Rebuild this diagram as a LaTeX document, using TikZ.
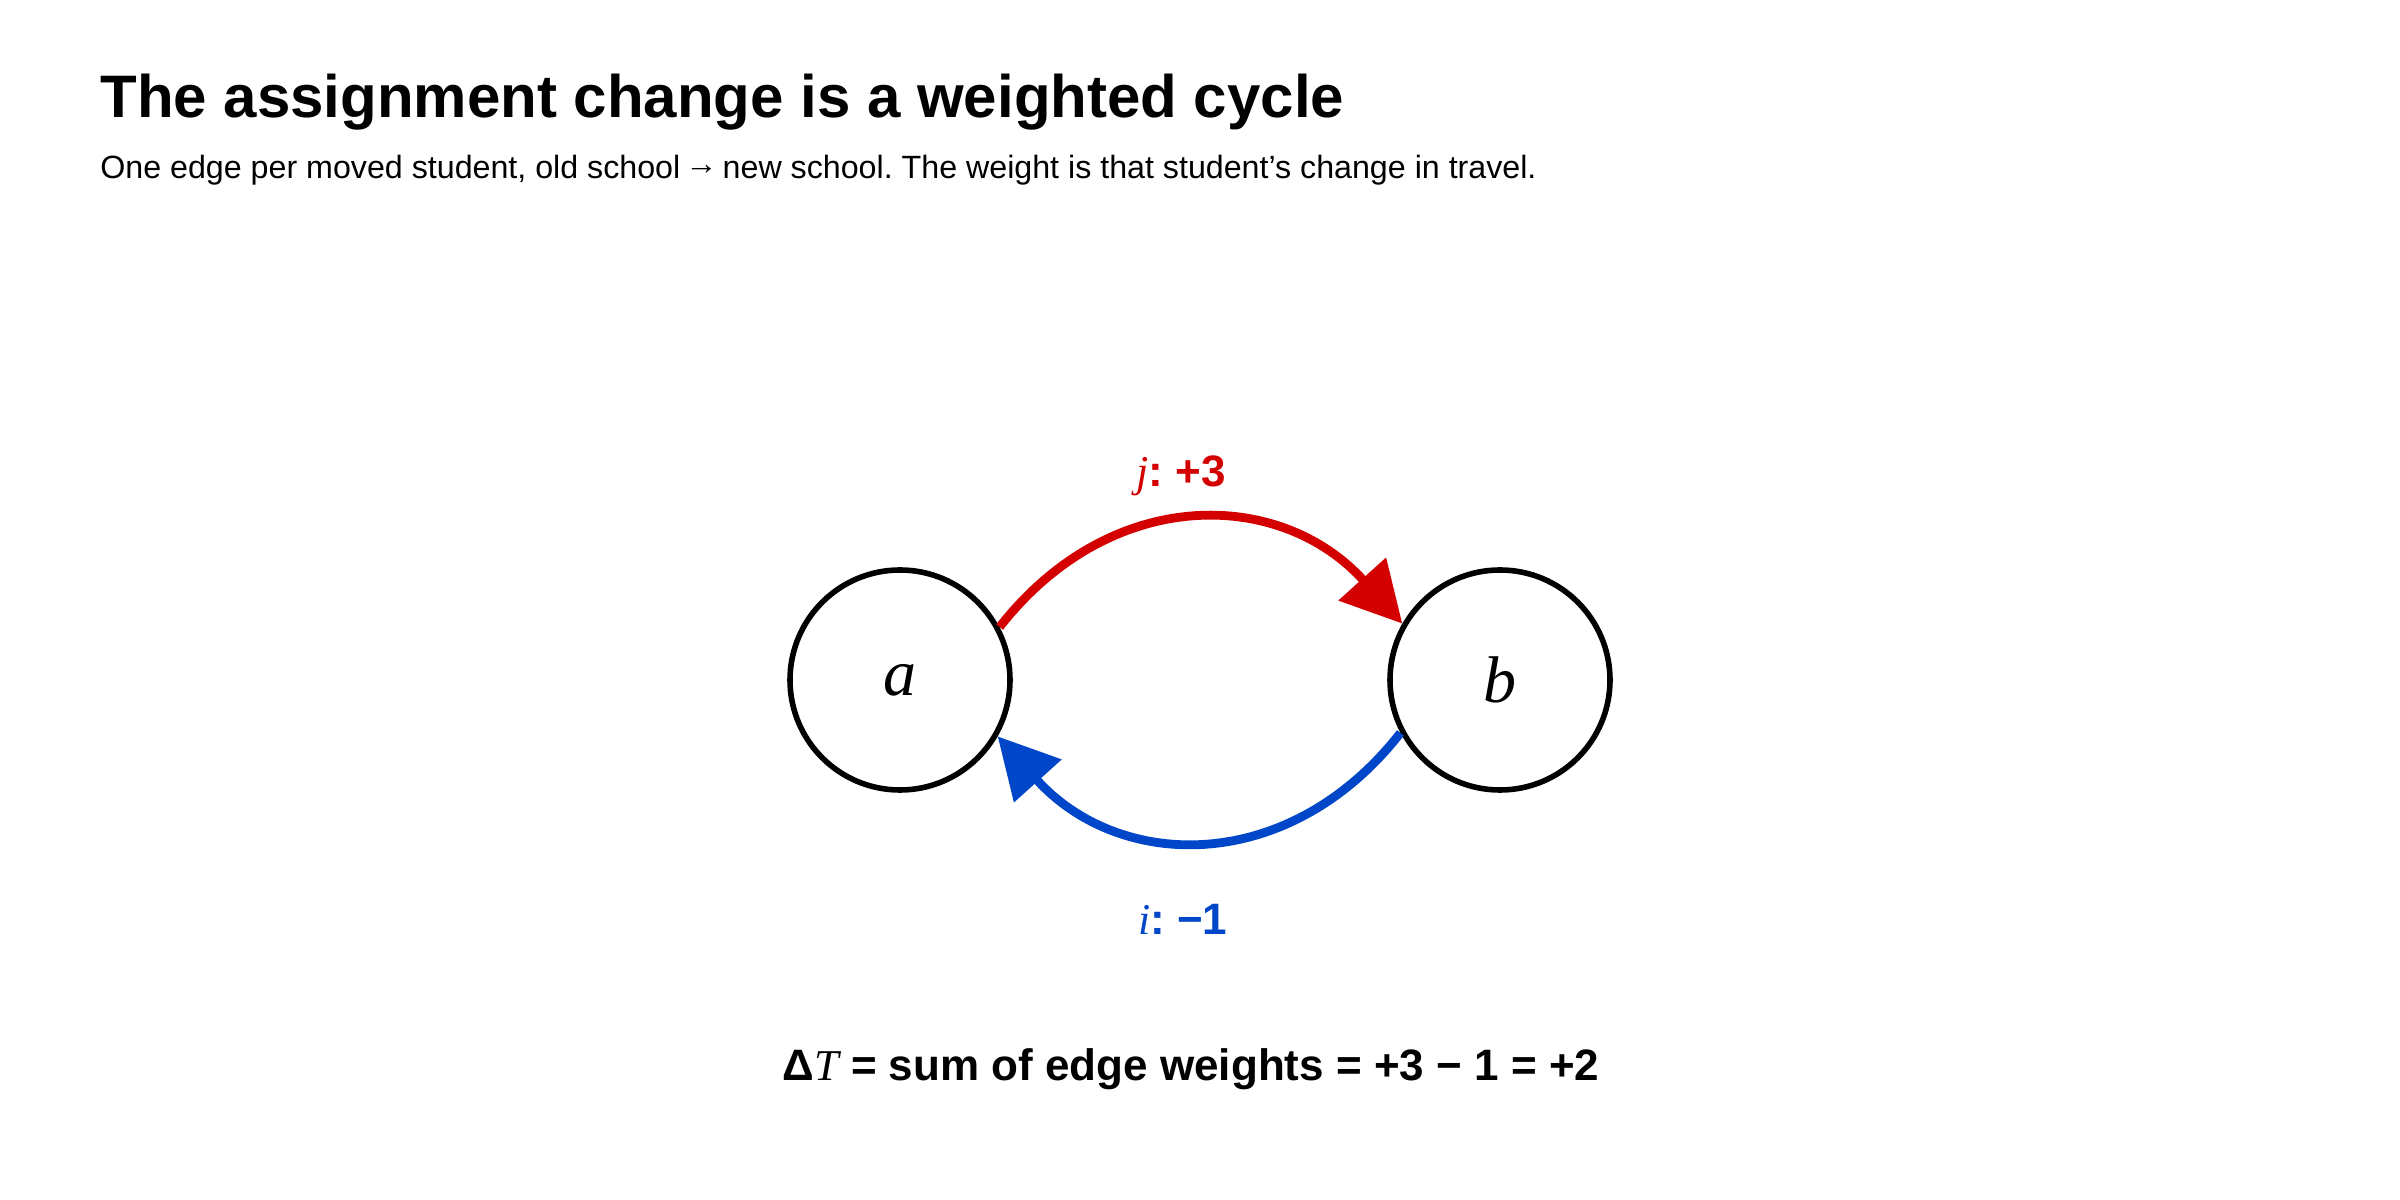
\documentclass[tikz,border=0pt]{standalone}
\usepackage{fontspec}
\setmainfont{Liberation Sans}
\newfontfamily\varfont{Liberation Serif}
\newcommand{\ivar}[1]{{\varfont\mdseries\itshape #1}}
\newcommand{\toarrow}{\kern-0.12em\raisebox{2.2pt}{→}\kern-0.12em}
\usetikzlibrary{arrows.meta}
\definecolor{edgered}{RGB}{212,0,0}
\definecolor{edgeblue}{RGB}{0,70,200}
\frenchspacing

\begin{document}
\begin{tikzpicture}
  [x=0.5pt, y=0.5pt,
  every node/.style={inner sep=0pt}]
  \tikzset{
    school/.style={
      circle, draw=black, line width=2.8pt,
      minimum size=110pt,
      font=\fontsize{33}{38}\selectfont\varfont\itshape,
    },
    move/.style={
      line width=4.4pt,
      -{Triangle[length=30pt, width=31pt]},
    },
    weight/.style={
      font=\fontsize{22}{26}\selectfont\bfseries,
      anchor=base,
    },
  }
  \useasboundingbox (0,0) rectangle (2400,1200);

  \node[anchor=base west, font=\fontsize{30}{36}\selectfont\bfseries] (title) at (100,1082)
    {The assignment change is a weighted cycle};
  \node[anchor=base west, font=\fontsize{16.1}{19}\selectfont] (sub) at (100,1021)
    {One edge per moved student, old school \toarrow{} new school. The weight is that student’s change in travel.};

  \node[school] (a) at (900,520) {a};
  \node[school] (b) at (1500,520) {b};

  \draw[move, edgered] (a.28)
    to[out=52, in=132, looseness=1.15]
    node[weight, midway, yshift=17.3pt, xshift=-8pt] (jw) {\ivar{j}: +3}
    (b.150);
  \draw[move, edgeblue] (b.-152)
    to[out=-128, in=-48, looseness=1.15]
    node[weight, midway, yshift=-47.9pt, xshift=-10pt] (iw) {\ivar{i}: −1}
    (a.-30);

  \node[weight] (total) at (1191,119) {Δ\ivar{T} = sum of edge weights = +3 − 1 = +2};
\end{tikzpicture}
\end{document}
